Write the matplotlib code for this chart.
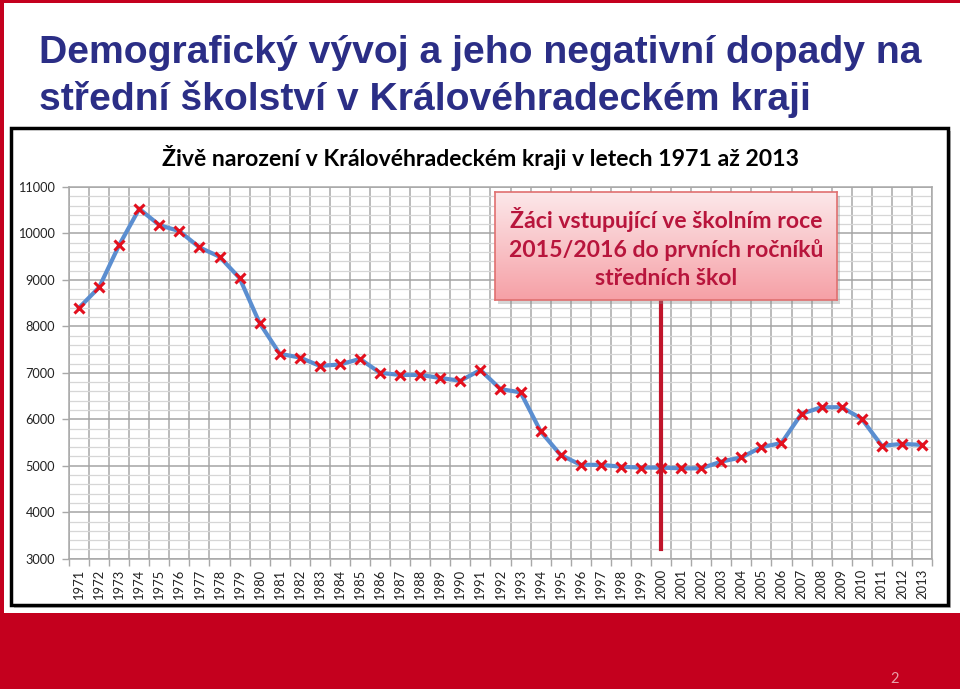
import matplotlib
matplotlib.use('Agg')
import matplotlib.pyplot as plt
import numpy as np
from matplotlib.patches import Rectangle
from matplotlib.ticker import MultipleLocator

# ---- data ----
years = list(range(1971, 2014))
births = [8400, 8840, 9750, 10530, 10180, 10050, 9700, 9500, 9040, 8070,
          7410, 7330, 7150, 7180, 7300, 7000, 6955, 6955, 6890, 6830,
          7060, 6650, 6580, 5740, 5230, 5020, 5020, 4980, 4960, 4960,
          4945, 4945, 5090, 5180, 5400, 5490, 6120, 6260, 6260, 6010,
          5430, 5470, 5450]
y_ticks = [3000, 4000, 5000, 6000, 7000, 8000, 9000, 10000, 11000]
highlight_year = 2000

slide_title_1 = "Demografický vývoj a jeho negativní dopady na"
slide_title_2 = "střední školství v Královéhradeckém kraji"
chart_title = "Živě narození v Královéhradeckém kraji v letech 1971 až 2013"
note_text = "Žáci vstupující ve školním roce\n2015/2016 do prvních ročníků\nstředních škol"
page_no = "2"

# ---- layout helpers (pixel coords, top-left origin) ----
W, H = 960, 689
fig = plt.figure(figsize=(W / 100, H / 100), dpi=100)
fig.patch.set_facecolor('white')

def fx(x):
    return x / W

def fy(y):
    return 1 - y / H

def rect_px(x0, y0, x1, y1, **kw):
    r = Rectangle((fx(x0), fy(y1)), fx(x1) - fx(x0), fy(y0) - fy(y1),
                  transform=fig.transFigure, **kw)
    fig.add_artist(r)
    return r

RED = '#C4001E'
# slide red borders
rect_px(0, 0, W, 2.5, facecolor=RED, edgecolor='none', zorder=-5)
rect_px(0, 0, 3.5, 613, facecolor=RED, edgecolor='none', zorder=-5)
rect_px(0, 613, W, H, facecolor=RED, edgecolor='none', zorder=-5)

# chart frame + shadow
rect_px(14, 131, 951, 608, facecolor='#9A9A9A', edgecolor='none', zorder=-4, alpha=0.6)
rect_px(11, 128, 948, 605, facecolor='white', edgecolor='black', linewidth=2.5, zorder=-3)

# slide title
TITLE_KW = dict(ha='left', va='baseline', fontsize=28.2, fontweight='bold',
                color='#2B2E86', family=['Liberation Sans', 'DejaVu Sans'])
fig.text(fx(39), fy(63), slide_title_1, **TITLE_KW)
fig.text(fx(39), fy(110), slide_title_2, **TITLE_KW)

CH_FONT = ['Lato', 'DejaVu Sans']

# chart title
fig.text(fx(480), fy(157), chart_title, ha='center', va='center',
         fontsize=16.6, fontweight='bold', color='black', family=CH_FONT)

# ---- main axes ----
ax = fig.add_axes([fx(69), fy(558.7), fx(932) - fx(69), (558.7 - 187) / H])
ax.set_facecolor('none')
x = np.arange(len(years))
ax.plot(x, births, color='#5B8ED0', lw=3, zorder=3, solid_joinstyle='round')
ax.plot(x, births, linestyle='none', marker='x', markersize=7.5, markeredgewidth=2.2,
        color='#E3101E', zorder=4)

ax.set_xlim(-0.5, len(years) - 0.5)
ax.set_ylim(3000, 11000)
ax.set_yticks(y_ticks)
ax.set_yticklabels([str(v) for v in y_ticks], family=CH_FONT, fontsize=9.2, color='#222222')
ax.yaxis.set_minor_locator(MultipleLocator(200))
ax.set_xticks(x)
ax.set_xticklabels([str(y) for y in years], rotation=90, family=CH_FONT,
                   fontsize=9.4, color='#222222')
ax.set_xticks(np.arange(-0.5, len(years)), minor=True)

ax.grid(which='minor', axis='y', color='#D6D6D6', lw=0.9, zorder=0)
ax.grid(which='major', axis='y', color='#A4A4A4', lw=1.1, zorder=1)
ax.grid(which='minor', axis='x', color='#A8A8A8', lw=1.1, zorder=1)
ax.set_axisbelow(True)
ax.tick_params(axis='x', which='major', length=0, pad=7)
ax.tick_params(axis='x', which='minor', length=5, color='#A8A8A8', width=1)
ax.tick_params(axis='y', which='major', length=5, color='#A8A8A8', width=1, pad=5)
ax.tick_params(axis='y', which='minor', length=0)
for s in ax.spines.values():
    s.set_color('#A8A8A8')
    s.set_linewidth(1.1)

# red vertical line at highlight year
hx = years.index(highlight_year)
ax.axvline(hx, ymin=0.026, ymax=0.70, color='#C0142A', lw=3, zorder=5)

# ---- note box with gradient ----
bx0, by0, bx1, by1 = 495, 192, 837, 300
rect_px(bx0 + 3, by0 + 4, bx1 + 3, by1 + 4, facecolor='#888888', edgecolor='none',
        alpha=0.35, zorder=6)
bax = fig.add_axes([fx(bx0), fy(by1), fx(bx1) - fx(bx0), fy(by0) - fy(by1)], zorder=7)
grad = np.linspace(0, 1, 256).reshape(-1, 1)
top = np.array([252, 232, 234]) / 255
bot = np.array([246, 160, 166]) / 255
img = top[None, None, :] * (1 - grad[:, :, None]) + bot[None, None, :] * grad[:, :, None]
bax.imshow(img, aspect='auto', extent=[0, 1, 0, 1], origin='upper')
bax.set_xticks([])
bax.set_yticks([])
for s in bax.spines.values():
    s.set_color('#E07070')
    s.set_linewidth(1.2)
bax.text(0.5, 0.48, note_text, ha='center', va='center', transform=bax.transAxes,
         fontsize=16.6, fontweight='bold', color='#B8153C', family=CH_FONT,
         linespacing=1.42)

# page number
fig.text(fx(895), fy(679), page_no, ha='center', va='center', fontsize=10.5,
         color='#E8A0A8', family=CH_FONT)

fig.savefig('out.png', dpi=100)
